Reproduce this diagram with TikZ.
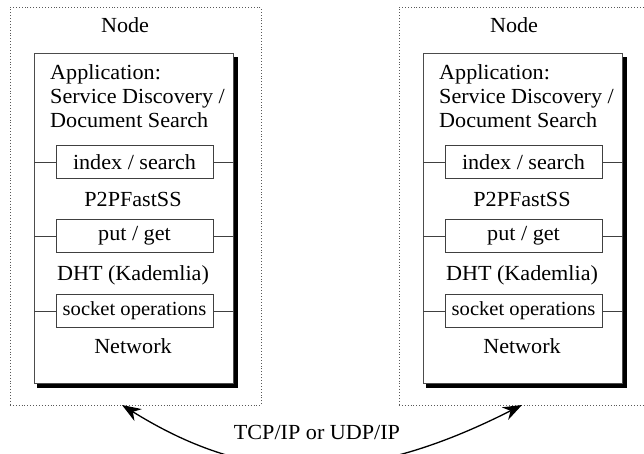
\documentclass[tikz,border=0pt]{standalone}
\usepackage{fontspec}
\setmainfont[FakeStretch=1.03]{Liberation Serif}
\usetikzlibrary{arrows.meta}
\begin{document}
\begin{tikzpicture}[x=1pt,y=-1pt,
  outerbox/.style={draw=black!65, dotted, line width=0.9pt},
  innerbox/.style={draw=black!70, line width=0.9pt, fill=white},
  shadowline/.style={draw=black, line width=4pt},
  opbox/.style={draw=black!75, line width=0.9pt, minimum width=157pt, minimum height=33pt, inner sep=0pt, font=\fontsize{21.5}{24}\selectfont},
  txt/.style={inner sep=0pt, font=\fontsize{21.5}{24}\selectfont},
  conn/.style={draw=black!75, line width=0.9pt},
  link/.style={draw=black, line width=1.3pt, {Stealth[length=19pt,width=14pt]}-{Stealth[length=19pt,width=14pt]}}]
\useasboundingbox (0,0) rectangle (644,454);
\foreach \dx/\s in {0/L,389/R}{
  \begin{scope}[xshift=\dx]
  \node[outerbox, minimum width=251pt, minimum height=398pt, anchor=north west, inner sep=0pt] (outer\s) at (9.5,7) {};
  \node[txt, anchor=base] (title\s) at (125,33) {Node};
  \draw[shadowline] (37,386) -- (235.5,386) -- (235.5,57);
  \node[innerbox, minimum width=199pt, minimum height=330pt, anchor=north west, inner sep=0pt] (inner\s) at (34,53) {};
  \node[txt, anchor=base west] (appa\s) at (50,80) {Application:};
  \node[txt, anchor=base west] (appb\s) at (50,104) {Service Discovery /};
  \node[txt, anchor=base west] (appc\s) at (50,128) {Document Search};
  \node[opbox] (idx\s) at (134.5,162) {index / search};
  \node[txt, anchor=base] (p2p\s) at (133,207) {P2PFastSS};
  \node[opbox] (put\s) at (134.5,236) {put / get};
  \node[txt, anchor=base] (dht\s) at (133,280) {DHT (Kademlia)};
  \node[opbox, font=\fontsize{20}{24}\selectfont] (sock\s) at (134.5,311) {socket operations};
  \node[txt, anchor=base] (net\s) at (133,353) {Network};
  \end{scope}
  \foreach \b in {idx,put,sock}{
    \draw[conn] (inner\s.west |- \b\s.west) -- (\b\s.west);
    \draw[conn] (\b\s.east) -- (inner\s.east |- \b\s.east);
  }
}
\coordinate (tipL) at (122,405);
\coordinate (tipR) at (522,405);
\draw[link] (tipL) .. controls (252,486) and (362,486) .. (tipR);
\node[txt, anchor=base] (proto) at (317,439) {TCP/IP or UDP/IP};
\end{tikzpicture}
\end{document}
